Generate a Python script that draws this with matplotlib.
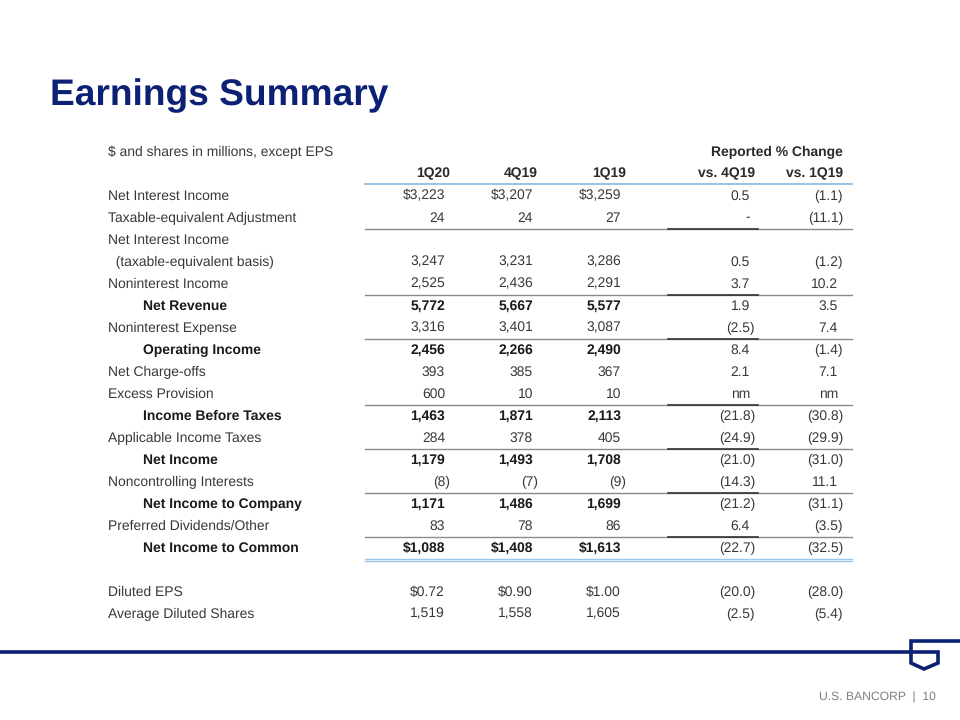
import matplotlib.pyplot as plt

plt.rcParams['font.family'] = ['Liberation Sans', 'DejaVu Sans']
plt.rcParams['text.hinting'] = 'no_hinting'

# Tabellendaten
labels = ["Net Interest Income", "Taxable-equivalent Adjustment", "Net Interest Income",
          "  (taxable-equivalent basis)", "Noninterest Income", "Net Revenue",
          "Noninterest Expense", "Operating Income", "Net Charge-offs", "Excess Provision",
          "Income Before Taxes", "Applicable Income Taxes", "Net Income",
          "Noncontrolling Interests", "Net Income to Company", "Preferred Dividends/Other",
          "Net Income to Common", "Diluted EPS", "Average Diluted Shares"]
col_headers = ["1Q20", "4Q19", "1Q19", "vs. 4Q19", "vs. 1Q19"]
q1_20 = ["$3,223", "24", "", "3,247", "2,525", "5,772", "3,316", "2,456", "393", "600",
         "1,463", "284", "1,179", "(8)", "1,171", "83", "$1,088", "$0.72", "1,519"]
q4_19 = ["$3,207", "24", "", "3,231", "2,436", "5,667", "3,401", "2,266", "385", "10",
         "1,871", "378", "1,493", "(7)", "1,486", "78", "$1,408", "$0.90", "1,558"]
q1_19 = ["$3,259", "27", "", "3,286", "2,291", "5,577", "3,087", "2,490", "367", "10",
         "2,113", "405", "1,708", "(9)", "1,699", "86", "$1,613", "$1.00", "1,605"]
vs_4q19 = ["0.5", "-", "", "0.5", "3.7", "1.9", "(2.5)", "8.4", "2.1", "nm",
           "(21.8)", "(24.9)", "(21.0)", "(14.3)", "(21.2)", "6.4", "(22.7)", "(20.0)", "(2.5)"]
vs_1q19 = ["(1.1)", "(11.1)", "", "(1.2)", "10.2", "3.5", "7.4", "(1.4)", "7.1", "nm",
           "(30.8)", "(29.9)", "(31.0)", "11.1", "(31.1)", "(3.5)", "(32.5)", "(28.0)", "(5.4)"]
columns = [q1_20, q4_19, q1_19, vs_4q19, vs_1q19]

# Layout / Stil
bold_rows = {5, 7, 10, 12, 14, 16}
rule_after = [1, 4, 6, 9, 11, 13, 15]
row_slot = list(range(17)) + [18, 19]
row_y = [196 + 22 * s for s in row_slot]
col_right = [450, 538, 626, 755, 843]
navy = "#0c2074"
txt = "#383838"
dark = "#1a1a1a"

fig = plt.figure(figsize=(9.6, 7.2), dpi=100)
ax = fig.add_axes([0, 0, 1, 1])
ax.set_xlim(0, 960)
ax.set_ylim(720, 0)
ax.axis("off")

# Titel
ax.text(50, 96, "Earnings Summary", fontsize=26.7, fontweight="bold", color=navy,
        va="center", ha="left")

# Kopfzeilen
ax.text(108, 152, "$ and shares in millions, except EPS", fontsize=10, color=txt, va="center")
ax.text(843, 152, "Reported % Change", fontsize=10, fontweight="bold", color="#2a2a2a",
        va="center", ha="right")
for h, x in zip(col_headers, col_right):
    ax.text(x, 174, h, fontsize=10, fontweight="bold", color="#2a2a2a", va="center", ha="right")
ax.plot([365, 852], [184, 184], color="#8fbde3", lw=1.3)

# Zeilen
for i, (lab, y) in enumerate(zip(labels, row_y)):
    b = i in bold_rows
    ax.text(143 if b else 108, y, lab, fontsize=10, color=dark if b else txt,
            fontweight="bold" if b else "normal", va="center", ha="left")
    for c, (vals, x) in enumerate(zip(columns, col_right)):
        v = vals[i]
        if not v:
            continue
        xr = x if v.endswith(")") else x - 5
        cb = b and c < 3
        ax.text(xr, y, v, fontsize=10, color=dark if cb else txt,
                fontweight="bold" if cb else "normal", va="center", ha="right")

# Linien
for r in rule_after:
    y = row_y[r] + 11
    ax.plot([365, 852], [y, y], color="#8a8a8a", lw=1.0)
    ax.plot([668, 758], [y, y], color="#333333", lw=1.2)
y2 = row_y[16] + 10.5
ax.plot([365, 852], [y2, y2], color="#9cc6ea", lw=1.0)
ax.plot([365, 852], [y2 + 2.5, y2 + 2.5], color="#9cc6ea", lw=1.0)

# Fussbereich mit Logo
ax.plot([0, 938, 938, 924, 911, 911, 960], [652, 652, 663, 669, 663, 641, 641],
        color=navy, lw=2.6, solid_joinstyle="miter")
ax.text(936, 697, "U.S. BANCORP  |  10", fontsize=8.7, color="#7f7f7f", va="center", ha="right")

fig.savefig("out.png", dpi=100)
